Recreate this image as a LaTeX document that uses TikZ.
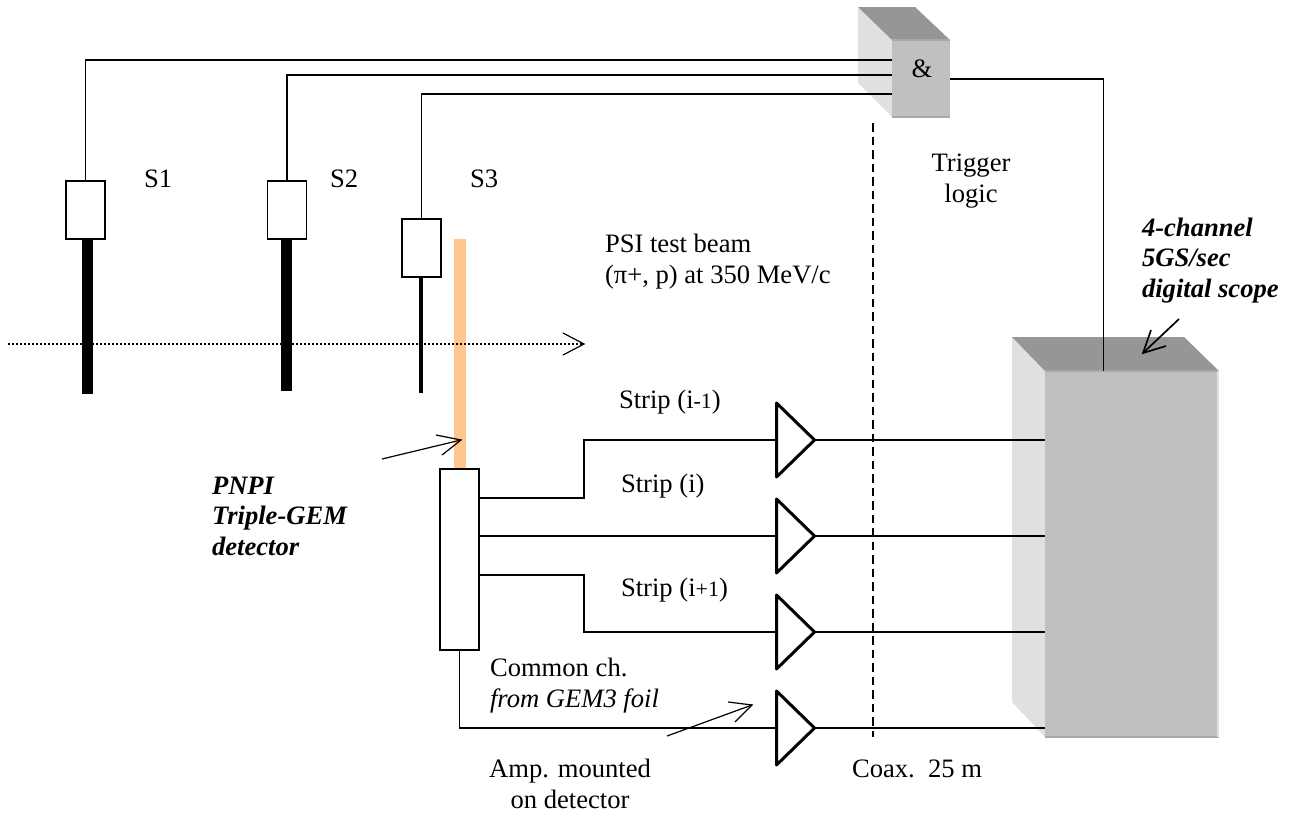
\documentclass[tikz,border=0pt]{standalone}
\usepackage{fontspec}
\setmainfont{Liberation Serif}
\usetikzlibrary{shapes.geometric}
\definecolor{cubetop}{HTML}{969696}
\definecolor{cubeside}{HTML}{E0E0E0}
\definecolor{cubefront}{HTML}{C0C0C0}
\definecolor{cubeedge}{HTML}{A8A8A8}
\definecolor{foil}{HTML}{FFC78F}
\newcommand{\txtsize}{\fontsize{26.6}{30.5}\selectfont}
\newcommand{\smallsize}{\fontsize{22}{24}\selectfont}
\tikzset{
  x=1pt,y=-1pt,
  wire/.style={draw=black,line width=1.5pt},
  ptr/.style={draw=black,line width=1.2pt},
  pmbox/.style={draw=black,fill=white,line width=1.6pt,rectangle,inner sep=0pt,outer sep=0pt},
  front/.style={fill=cubefront,rectangle,inner sep=0pt,outer sep=0pt},
  amp/.style={draw=black,fill=white,line width=3pt,line join=round,isosceles triangle,isosceles triangle stretches,
     minimum width=74pt,minimum height=38pt,inner sep=0pt,outer sep=0pt,anchor=west},
  lbl/.style={inner sep=0pt,outer sep=0pt,anchor=base west,font=\txtsize,align=left},
  blbl/.style={lbl,font=\txtsize\bfseries\itshape},
}
\begin{document}
\begin{tikzpicture}
\useasboundingbox (0,0) rectangle (1292,814);
% trigger cube
\fill[cubeside] (858,7) -- (892,40) -- (892,117) -- (858,83) -- cycle;
\fill[cubetop] (858,7) -- (915,7) -- (950,40) -- (892,40) -- cycle;
\node[front,minimum width=58pt,minimum height=77pt] (logic) at (921,78.5) {};
\draw[cubeedge,line width=1.5pt] (logic.north west) -- (logic.north east);
\draw[cubeedge,line width=2pt] (logic.south west) -- (logic.south east);
\node[lbl,anchor=base] (andsign) at (922,77) {\&};
% scope cube
\fill[cubeside] (1012,337) -- (1045,371) -- (1045,737) -- (1012,702) -- cycle;
\fill[cubetop] (1012,337) -- (1184,337) -- (1219,371) -- (1045,371) -- cycle;
\node[front,minimum width=174pt,minimum height=366pt] (scope) at (1132,554) {};
\draw[cubeedge,line width=1.5pt] (scope.north west) -- (scope.north east);
\draw[cubeedge,line width=2pt] (scope.south west) -- (scope.south east);
\draw[cubeside,line width=2pt] ([xshift=-1pt]scope.north east) -- ([xshift=-1pt]scope.south east);
% foil
\node[fill=foil,rectangle,inner sep=0pt,outer sep=0pt,minimum width=12pt,minimum height=229pt] (foil) at (460,353.5) {};
% counters
\node[fill=black,rectangle,inner sep=0pt,minimum width=11pt,minimum height=155pt] (bar1) at (87.5,316.5) {};
\node[fill=black,rectangle,inner sep=0pt,minimum width=11pt,minimum height=152pt] (bar2) at (286.5,315) {};
\node[fill=black,rectangle,inner sep=0pt,minimum width=4pt,minimum height=116pt] (bar3) at (421,335) {};
\node[pmbox,minimum width=39pt,minimum height=58pt] (pm1) at (85.5,210) {};
\node[pmbox,minimum width=39pt,minimum height=58pt] (pm2) at (287,210) {};
\node[pmbox,minimum width=39pt,minimum height=58pt] (pm3) at (421.5,248) {};
% detector
\node[pmbox,minimum width=39pt,minimum height=181pt] (gem) at (459.5,559.5) {};
% amplifiers
\node[amp] (amp1) at (776.5,440) {};
\node[amp] (amp2) at (776.5,536) {};
\node[amp] (amp3) at (776.5,632) {};
\node[amp] (amp4) at (776.5,728) {};
% coordinates
\coordinate (beamstart) at (8,344);
\coordinate (beamend) at (584,344);
\coordinate (dashtop) at (873,123);
\coordinate (dashend) at (873,737);
% trigger wiring
\draw[wire] (pm1.north) |- (logic.west |- 0,60);
\draw[wire] (pm2.north) |- (logic.west |- 0,75);
\draw[wire] (pm3.north) |- (logic.west |- 0,94);
\draw[wire] (logic.east |- 0,79) -| (1103.5,371);
% strip wiring
\draw[wire] (gem.east |- 0,498) -- (584,498) -- (584,440) -- (amp1.west);
\draw[wire] (gem.east |- 0,536) -- (amp2.west);
\draw[wire] (gem.east |- 0,575) -- (584,575) -- (584,632) -- (amp3.west);
\draw[wire] (gem.south) |- (amp4.west);
\draw[wire] (amp1.east) -- (scope.west |- amp1.east);
\draw[wire] (amp2.east) -- (scope.west |- amp2.east);
\draw[wire] (amp3.east) -- (scope.west |- amp3.east);
\draw[wire] (amp4.east) -- (scope.west |- amp4.east);
% dashed
\draw[black,line width=1.5pt,dash pattern=on 8.5pt off 5pt] (dashtop) -- (dashend);
% beam
\draw[black,line width=1.3pt,dash pattern=on 1.5pt off 2.5pt] (beamstart) -- (beamend);
\draw[ptr] (563,333) -- (beamend) -- (563,355);
% pointers
\draw[ptr] (382,459) -- (461,440);
\draw[ptr] (436,435) -- (461,440) -- (442,455);
\draw[ptr] (667,736) -- (752,705);
\draw[ptr] (728,702) -- (752,705) -- (735,722);
\draw[line width=1.7pt] (1179,319) -- (1143,353);
\draw[line width=1.7pt] (1151,330) -- (1143,353) -- (1166,346);
% labels
\node[lbl] (s1) at (144,187) {S1};
\node[lbl] (s2) at (330,187) {S2};
\node[lbl] (s3) at (470,187) {S3};
\node[lbl,align=center,anchor=base] (trig) at (971,202) {Trigger\\logic};
\node[blbl] (dsc) at (1142,297) {4-channel\\5GS/sec\\digital scope};
\node[lbl] (psi) at (605,283) {PSI test beam\\(π+, p) at 350 MeV/c};
\node[lbl] (st1) at (619,408) {Strip (i{\smallsize -1})};
\node[lbl] (st2) at (621,492) {Strip (i)};
\node[lbl] (st3) at (621,596) {Strip (i{\smallsize +1})};
\node[blbl] (pnpi) at (212,555) {PNPI\\Triple-GEM\\detector};
\node[lbl] (com) at (490,676) {Common ch.};
\node[lbl,font=\txtsize\itshape] (from) at (490,707) {from GEM3 foil};
\node[lbl,align=center,anchor=base] (ampm) at (570,808) {Amp. mounted\\on detector};
\node[lbl] (coax) at (852,777.5) {Coax.\ \ 25 m};
\end{tikzpicture}
\end{document}
